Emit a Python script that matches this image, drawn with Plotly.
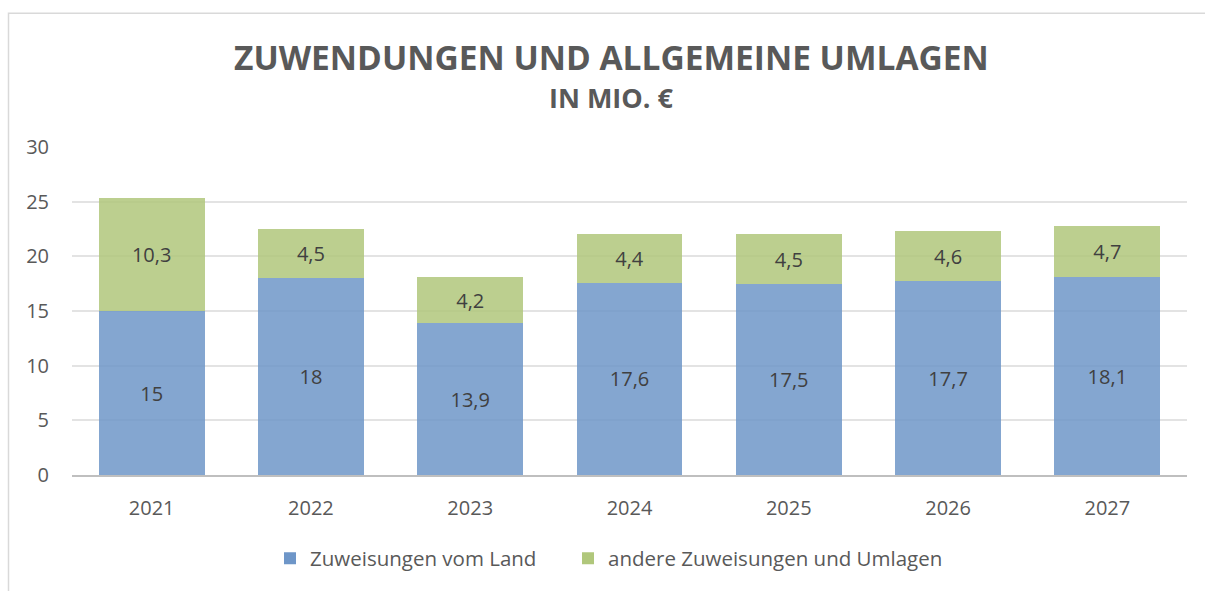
import plotly.graph_objects as go

years = ["2021", "2022", "2023", "2024", "2025", "2026", "2027"]
land = [15, 18, 13.9, 17.6, 17.5, 17.7, 18.1]
andere = [10.3, 4.5, 4.2, 4.4, 4.5, 4.6, 4.7]
land_labels = ["15", "18", "13,9", "17,6", "17,5", "17,7", "18,1"]
andere_labels = ["10,3", "4,5", "4,2", "4,4", "4,5", "4,6", "4,7"]

FONT = "Open Sans"
W, H = 1205, 591
L, R, T, B = 72, 18, 147, 114
PW, PH = W - L - R, H - T - B

fig = go.Figure()
fig.add_trace(go.Bar(
    x=years, y=land, name="Zuweisungen vom Land", legend="legend",
    marker=dict(color="#6e96c8", opacity=0.85, line=dict(width=0)),
    text=land_labels, textposition="inside", insidetextanchor="middle",
    textfont=dict(family=FONT, size=20, color="#404040"),
))
fig.add_trace(go.Bar(
    x=years, y=andere, name="andere Zuweisungen und Umlagen", legend="legend2",
    marker=dict(color="#b0c77b", opacity=0.85, line=dict(width=0)),
    text=andere_labels, textposition="inside", insidetextanchor="middle",
    textfont=dict(family=FONT, size=20, color="#404040"),
))

leg_common = dict(orientation="h", xanchor="left", y=-84 / PH, yanchor="middle",
                  font=dict(family=FONT, size=20.5, color="#595959"), bgcolor="rgba(0,0,0,0)")
fig.update_layout(
    width=W, height=H,
    barmode="stack", bargap=0.335,
    plot_bgcolor="white", paper_bgcolor="white",
    margin=dict(l=L, r=R, t=T, b=B),
    font=dict(family=FONT, color="#595959"),
    showlegend=True,
    legend=dict(x=(270 - L) / PW, **leg_common),
    legend2=dict(x=(568 - L) / PW, **leg_common),
    uniformtext=dict(mode="show", minsize=10),
)
fig.update_yaxes(range=[0, 30], dtick=5, showgrid=True, gridcolor="#e3e3e3", gridwidth=1.5,
                 zeroline=False, showline=False, ticks="",
                 tickfont=dict(family=FONT, size=20, color="#595959"), ticklabelstandoff=22)
fig.update_xaxes(showline=True, linecolor="#bfbfbf", linewidth=1.5, ticks="",
                 tickfont=dict(family=FONT, size=20, color="#595959"), ticklabelstandoff=14)

cx = (611 - L) / PW
fig.add_annotation(text="<b>ZUWENDUNGEN UND ALLGEMEINE UMLAGEN</b>", xref="paper", yref="paper",
                   x=cx, y=1, yshift=T - 57, showarrow=False, yanchor="middle",
                   font=dict(family=FONT, size=33.5, color="#595959"))
fig.add_annotation(text="<b>IN MIO. €</b>", xref="paper", yref="paper",
                   x=cx, y=1, yshift=T - 97, showarrow=False, yanchor="middle",
                   font=dict(family=FONT, size=27, color="#595959"))

fig.add_shape(type="rect", xref="paper", yref="paper",
              x0=-(L - 8.5) / PW, x1=1.2, y0=-0.5, y1=1 + (T - 12.5) / PH,
              line=dict(color="#d9d9d9", width=1.5), layer="below")

fig.write_html("out.html", config={"displayModeBar": False},
               post_script="document.body.style.margin='0';document.body.style.overflow='hidden';")
